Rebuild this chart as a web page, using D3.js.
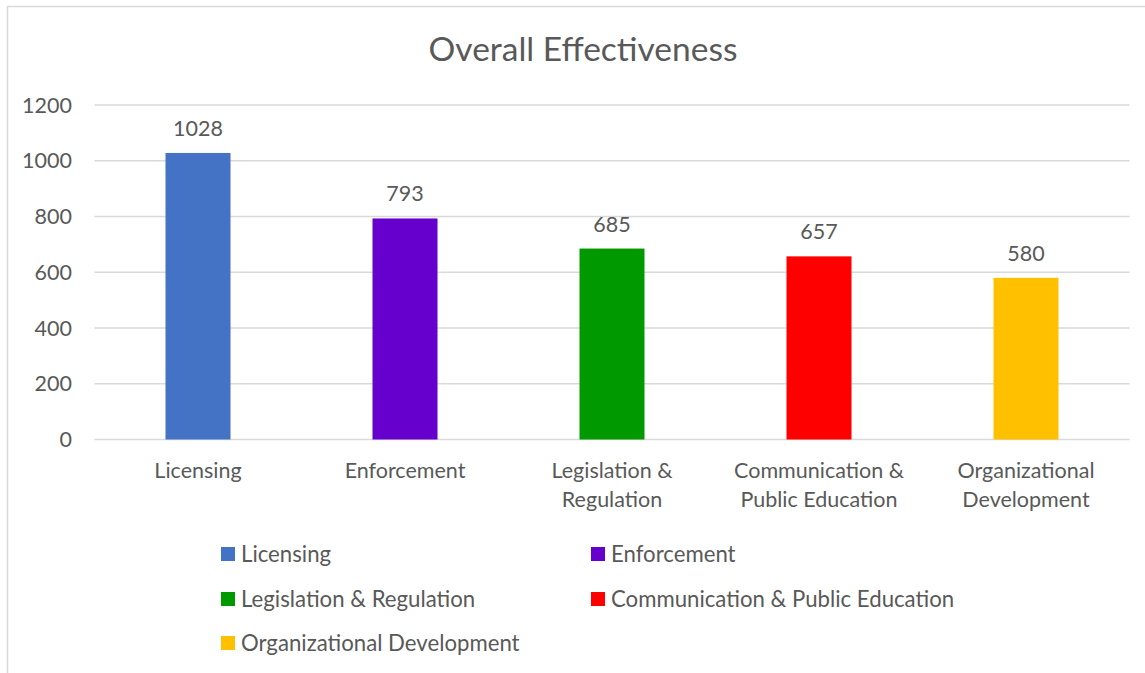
<!DOCTYPE html>
<html>
<head>
<meta charset="utf-8">
<script src="https://cdn.jsdelivr.net/npm/d3@7"></script>
<style>
  html, body { margin: 0; padding: 0; background: #fff; }
  svg { display: block; font-family: Lato, "Open Sans", sans-serif; }
</style>
</head>
<body>
<svg id="chart" width="1145" height="673"></svg>
<script>
// Overall effectiveness scores per area
const categories = ["Licensing", "Enforcement", "Legislation & Regulation", "Communication & Public Education", "Organizational Development"];
const axisLabels = [["Licensing"], ["Enforcement"], ["Legislation &", "Regulation"], ["Communication &", "Public Education"], ["Organizational", "Development"]];
const values = [1028, 793, 685, 657, 580];
const colors = ["#4472C4", "#6600CC", "#009900", "#FF0000", "#FFC000"];
const yTicks = [0, 200, 400, 600, 800, 1000, 1200];

const svg = d3.select("#chart");
const textColor = "#595959";
const gridColor = "#d9d9d9";
const fs = "21.5px";
const legendFs = "22.2px";

// outer frame of the chart area
svg.append("rect")
  .attr("x", 7.5).attr("y", 6.5)
  .attr("width", 1160).attr("height", 700)
  .attr("fill", "#fff").attr("stroke", gridColor).attr("stroke-width", 1.5);

// title
svg.append("text")
  .attr("x", 583).attr("y", 61)
  .attr("text-anchor", "middle")
  .attr("fill", textColor)
  .style("font-size", "33.5px")
  .text("Overall Effectiveness");

const x = d3.scaleBand()
  .domain(categories)
  .range([94.5, 1129.5])
  .paddingInner(1 - 65 / 207)
  .paddingOuter((1 - 65 / 207) / 2);

const y = d3.scaleLinear().domain([0, 1200]).range([439.5, 105]);

// horizontal gridlines
svg.append("g")
  .selectAll("line")
  .data(yTicks)
  .join("line")
  .attr("x1", 94.5).attr("x2", 1129.5)
  .attr("y1", d => y(d)).attr("y2", d => y(d))
  .attr("stroke", gridColor).attr("stroke-width", 1.5);

// y tick labels
svg.append("g")
  .selectAll("text")
  .data(yTicks)
  .join("text")
  .attr("x", 72).attr("y", d => y(d))
  .attr("dy", "0.35em")
  .attr("text-anchor", "end")
  .attr("fill", textColor)
  .style("font-size", fs)
  .text(d => d);

// value labels
svg.append("g")
  .selectAll("text")
  .data(values)
  .join("text")
  .attr("x", (d, i) => x(categories[i]) + x.bandwidth() / 2)
  .attr("y", d => y(d) - 17)
  .attr("text-anchor", "middle")
  .attr("fill", textColor)
  .style("font-size", fs)
  .text(d => d);

// bars
svg.append("g")
  .selectAll("rect")
  .data(values)
  .join("rect")
  .attr("x", (d, i) => x(categories[i]))
  .attr("width", x.bandwidth())
  .attr("y", d => y(d))
  .attr("height", d => y(0) - y(d))
  .attr("fill", (d, i) => colors[i]);

// category labels
const catG = svg.append("g")
  .selectAll("text")
  .data(categories)
  .join("text")
  .attr("x", d => x(d) + x.bandwidth() / 2)
  .attr("y", 478)
  .attr("text-anchor", "middle")
  .attr("fill", textColor)
  .style("font-size", fs);
catG.selectAll("tspan")
  .data((d, i) => axisLabels[i])
  .join("tspan")
  .attr("x", function() { return d3.select(this.parentNode).attr("x"); })
  .attr("dy", (d, j) => j === 0 ? 0 : 29)
  .text(d => d);

// legend
const legendPos = [[221, 554], [591, 554], [221, 599], [591, 599], [221, 643]];
const lg = svg.append("g")
  .selectAll("g")
  .data(categories)
  .join("g")
  .attr("transform", (d, i) => `translate(${legendPos[i][0]},${legendPos[i][1]})`);
lg.append("rect")
  .attr("x", 0).attr("y", -7)
  .attr("width", 14).attr("height", 14)
  .attr("fill", (d, i) => colors[i]);
lg.append("text")
  .attr("x", 20).attr("y", 0)
  .attr("dy", "0.35em")
  .attr("fill", textColor)
  .style("font-size", legendFs)
  .text(d => d);
</script>
</body>
</html>
